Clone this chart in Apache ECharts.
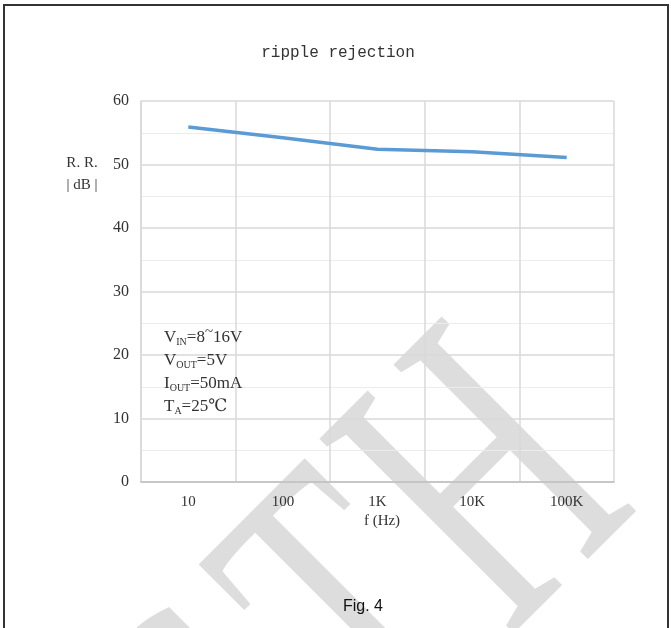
<!DOCTYPE html>
<html>
<head>
<meta charset="utf-8">
<script src="https://cdn.jsdelivr.net/npm/echarts@6/dist/echarts.min.js"></script>
<style>
html, body { margin: 0; padding: 0; background: #fff; }
#chart { width: 671px; height: 628px; }
</style>
</head>
<body>
<div id="chart"></div>
<script>
/*data*/
var freqs = ['10', '100', '1K', '10K', '100K'];
var rrValues = [55.9, 54.2, 52.4, 52.0, 51.1];
var yTicks = [0, 10, 20, 30, 40, 50, 60];

var serif = '"Liberation Serif", "DejaVu Serif", serif';
var textColor = '#333';

var myChart = echarts.init(document.getElementById('chart'));
var option = {
    backgroundColor: '#fff',
    animation: false,
    grid: {
        left: 141,
        right: 57,
        top: 101,
        bottom: 146
    },
    xAxis: {
        type: 'category',
        data: freqs,
        boundaryGap: true,
        axisLine: { lineStyle: { color: '#bfbfbf', width: 1.5 } },
        axisTick: { show: false },
        axisLabel: {
            margin: 13,
            color: textColor,
            fontFamily: serif,
            fontSize: 15
        },
        splitLine: { show: true, lineStyle: { color: '#d9d9d9', width: 1.5 } }
    },
    yAxis: {
        type: 'value',
        min: yTicks[0],
        max: yTicks[yTicks.length - 1],
        interval: 10,
        axisLine: { show: true, lineStyle: { color: '#d9d9d9', width: 1.5 } },
        axisTick: { show: false },
        axisLabel: {
            margin: 12,
            color: textColor,
            fontFamily: serif,
            fontSize: 16
        },
        splitLine: { lineStyle: { color: '#d9d9d9', width: 1.5 } },
        minorTick: { show: false, splitNumber: 2 },
        minorSplitLine: { show: true, lineStyle: { color: '#ececec', width: 1 } }
    },
    series: [{
        type: 'line',
        data: rrValues,
        symbol: 'none',
        z: 5,
        lineStyle: { color: '#5b9bd5', width: 3.5 }
    }],
    graphic: [
        /*watermark*/
        { type: 'text', x: 497, y: 494, rotation: Math.PI / 4, scaleX: 0.62, z: -10, silent: true,
          style: { text: 'H', fontFamily: serif, fontSize: 420, fill: '#dddddd', textAlign: 'center', textVerticalAlign: 'middle' } },
        { type: 'text', x: 368, y: 628, rotation: Math.PI / 4, scaleX: 0.62, z: -10, silent: true,
          style: { text: 'T', fontFamily: serif, fontSize: 420, fill: '#dddddd', textAlign: 'center', textVerticalAlign: 'middle' } },
        { type: 'text', x: 248, y: 753, rotation: Math.PI / 4, scaleX: 0.62, z: -10, silent: true,
          style: { text: 'S', fontFamily: serif, fontSize: 420, fill: '#dddddd', textAlign: 'center', textVerticalAlign: 'middle' } },
        /*frame*/
        { type: 'rect', shape: { x: 4, y: 5, width: 664, height: 640 }, z: 100, silent: true,
          style: { fill: 'none', stroke: '#333', lineWidth: 2 } },
        /*title*/
        { type: 'text', x: 338, y: 53, z: 100,
          style: { text: 'ripple rejection', fontFamily: '"Liberation Mono", monospace', fontSize: 16, fill: textColor, textAlign: 'center', textVerticalAlign: 'middle' } },
        /*y name*/
        { type: 'text', x: 82, y: 163, z: 100,
          style: { text: 'R. R.', fontFamily: serif, fontSize: 15, fill: textColor, textAlign: 'center', textVerticalAlign: 'middle' } },
        { type: 'text', x: 82, y: 185, z: 100,
          style: { text: '| dB |', fontFamily: serif, fontSize: 15, fill: textColor, textAlign: 'center', textVerticalAlign: 'middle' } },
        /*x name*/
        { type: 'text', x: 382, y: 521, z: 100,
          style: { text: 'f (Hz)', fontFamily: serif, fontSize: 15, fill: textColor, textAlign: 'center', textVerticalAlign: 'middle' } },
        /*conditions*/
        { type: 'text', x: 164, y: 326, z: 100,
          style: {
              text: '{m|V}{s|IN}{m|=8}{t|~}{m|16V}\n{m|V}{s|OUT}{m|=5V}\n{m|I}{s|OUT}{m|=50mA}\n{m|T}{s|A}{m|=25℃}',
              fontFamily: serif,
              fill: textColor,
              rich: {
                  m: { fontFamily: serif, fontSize: 17, lineHeight: 23, fill: textColor },
                  s: { fontFamily: serif, fontSize: 10, lineHeight: 23, fill: textColor, padding: [9, 0, 0, 0] },
                  t: { fontFamily: serif, fontSize: 15, lineHeight: 23, fill: textColor, padding: [0, 0, 10, 0] }
              }
          } },
        /*caption*/
        { type: 'text', x: 363, y: 607, z: 100,
          style: { text: 'Fig. 4', fontFamily: '"Liberation Sans", Arial, sans-serif', fontSize: 16, fill: '#111', textAlign: 'center', textVerticalAlign: 'middle' } }
    ]
};
myChart.setOption(option);
</script>
</body>
</html>
